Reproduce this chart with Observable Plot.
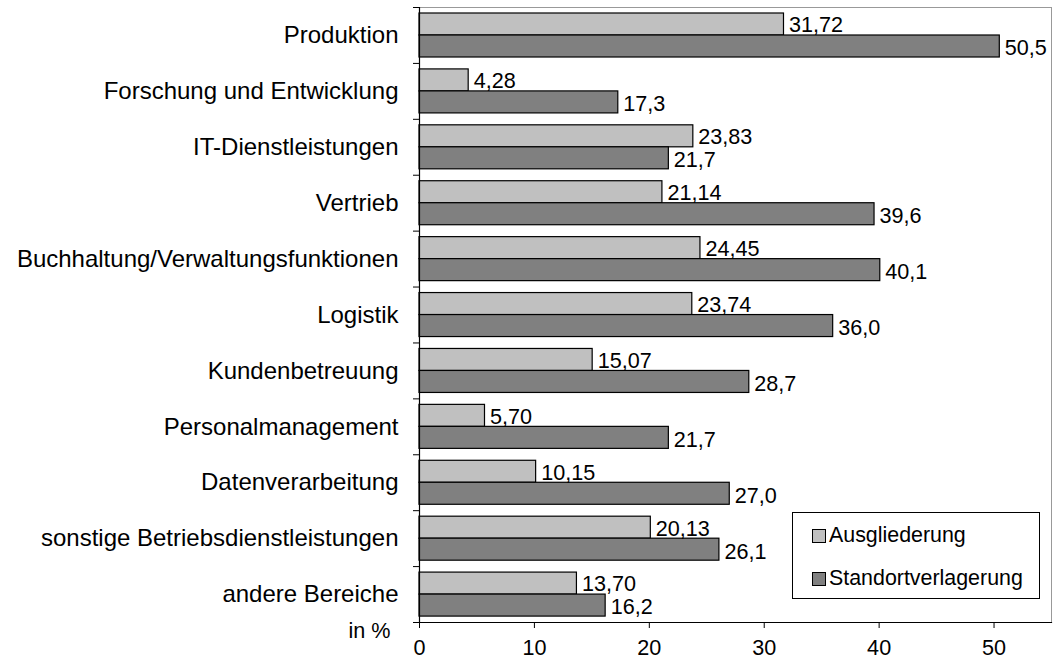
<!DOCTYPE html>
<html>
<head>
<meta charset="utf-8">
<script src="https://cdn.jsdelivr.net/npm/d3@7"></script>
<script src="https://cdn.jsdelivr.net/npm/@observablehq/plot@0.6"></script>
<style>
  html, body { margin: 0; padding: 0; background: #fff; overflow: hidden; }
  #wrap { position: relative; width: 1053px; height: 660px; overflow: hidden; font-family: "Liberation Sans", Arial, sans-serif; }
  #wrap svg { display: block; }
  #legend { position: absolute; left: 792px; top: 512px; width: 246px; height: 85px; border: 1px solid #000; background: #fff; }
  .item { position: absolute; left: 19px; display: flex; align-items: center; font-size: 21.4px; color: #000; line-height: 1; }
  .sw { width: 12px; height: 12px; border: 1px solid #000; margin-right: 3px; }
</style>
</head>
<body>
<div id="wrap"><div id="legend"></div></div>
<script>
const categories = [
  "Produktion",
  "Forschung und Entwicklung",
  "IT-Dienstleistungen",
  "Vertrieb",
  "Buchhaltung/Verwaltungsfunktionen",
  "Logistik",
  "Kundenbetreuung",
  "Personalmanagement",
  "Datenverarbeitung",
  "sonstige Betriebsdienstleistungen",
  "andere Bereiche"
];
const ausgliederung = [31.72, 4.28, 23.83, 21.14, 24.45, 23.74, 15.07, 5.70, 10.15, 20.13, 13.70];
const standortverlagerung = [50.5, 17.3, 21.7, 39.6, 40.1, 36.0, 28.7, 21.7, 27.0, 26.1, 16.2];
const seriesNames = ["Ausgliederung", "Standortverlagerung"];
const seriesColors = ["#c0c0c0", "#808080"];
const xTicks = [0, 10, 20, 30, 40, 50];
const axisTitle = "in %";

const dataA = categories.map((c, i) => ({cat: c, v: ausgliederung[i], label: ausgliederung[i].toFixed(2).replace(".", ",")}));
const dataB = categories.map((c, i) => ({cat: c, v: standortverlagerung[i], label: standortverlagerung[i].toFixed(1).replace(".", ",")}));

const H = 660, mt = 7, mb = 38;
const band = (H - mt - mb) / categories.length;

const chart = Plot.plot({
  width: 1053,
  height: H,
  marginLeft: 419,
  marginRight: 2,
  marginTop: mt,
  marginBottom: mb,
  style: {fontFamily: "Liberation Sans, Arial, sans-serif", fontSize: "21.6px", color: "#000", background: "#fff", overflow: "visible"},
  x: {domain: [0, 55]},
  y: {domain: categories, padding: 0, round: false},
  marks: [
    Plot.frame({stroke: "#999", strokeWidth: 1}),
    Plot.barX(dataA, {y: "cat", x: "v", fill: seriesColors[0], stroke: "#000", strokeWidth: 1.2, insetTop: 6, insetBottom: band - 28}),
    Plot.barX(dataB, {y: "cat", x: "v", fill: seriesColors[1], stroke: "#000", strokeWidth: 1.2, insetTop: 28, insetBottom: band - 50}),
    Plot.text(dataA, {y: "cat", x: "v", text: "label", textAnchor: "start", dx: 5, dy: -10, fontSize: 21.6, fill: "#000"}),
    Plot.text(dataB, {y: "cat", x: "v", text: "label", textAnchor: "start", dx: 5, dy: 13, fontSize: 21.6, fill: "#000"}),
    Plot.ruleX([0], {stroke: "#000", strokeWidth: 1.2}),
    Plot.frame({anchor: "bottom", stroke: "#000", strokeWidth: 1.2}),
    Plot.axisY({tickSize: 0, tickPadding: 21, fontSize: 24, label: null}),
    Plot.axisY({tickSize: 6, dy: -band / 2, tickFormat: () => "", label: null}),
    Plot.axisY({ticks: [categories[categories.length - 1]], tickSize: 6, dy: band / 2, tickFormat: () => "", label: null}),
    Plot.axisX({ticks: xTicks, tickSize: 6, tickPadding: 11, fontSize: 21.6, label: null}),
    Plot.text([axisTitle], {frameAnchor: "bottom-left", dx: -29, dy: 15, textAnchor: "end", fontSize: 21.6, fill: "#000"})
  ]
});
document.getElementById("wrap").prepend(chart);

const legend = document.getElementById("legend");
seriesNames.forEach((name, i) => {
  const item = document.createElement("div");
  item.className = "item";
  item.style.top = (i === 0 ? 12 : 55) + "px";
  const sw = document.createElement("div");
  sw.className = "sw";
  sw.style.background = seriesColors[i];
  item.appendChild(sw);
  const t = document.createElement("span");
  t.textContent = name;
  item.appendChild(t);
  legend.appendChild(item);
});
</script>
</body>
</html>
